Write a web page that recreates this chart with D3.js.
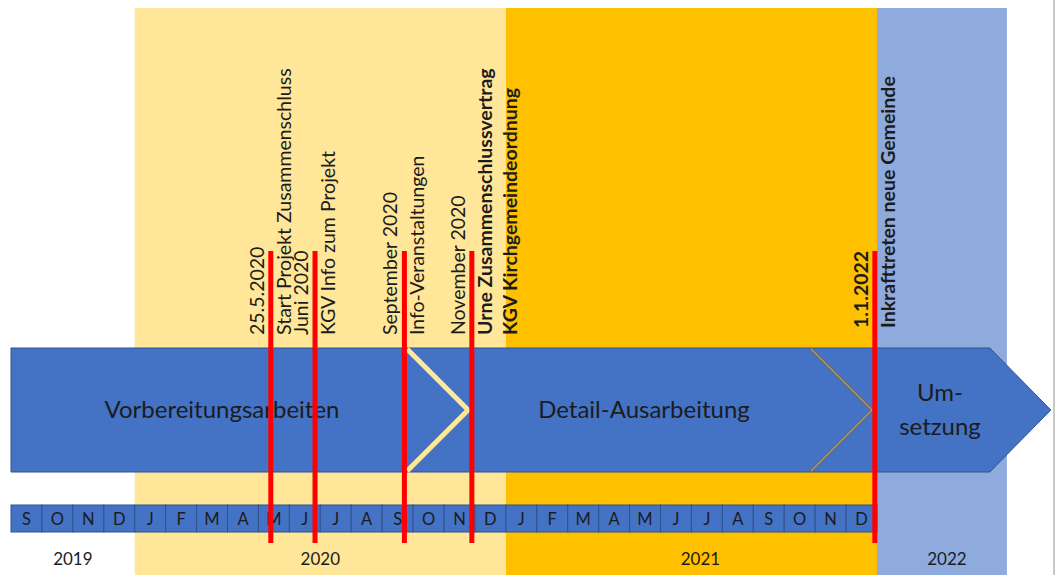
<!DOCTYPE html>
<html>
<head>
<meta charset="utf-8">
<script src="https://cdn.jsdelivr.net/npm/d3@7"></script>
<style>
  body { margin: 0; background: #fff; }
  svg { display: block; font-family: Lato, "Open Sans", sans-serif; }
</style>
</head>
<body>
<div id="chart"></div>
<script>
// months from September 2019 to December 2021 (index 0 = Sep 2019)
const months = ["S","O","N","D","J","F","M","A","M","J","J","A","S","O","N","D","J","F","M","A","M","J","J","A","S","O","N","D"];

const years = ["2019", "2020", "2021", "2022"];
const yearStart = [0, 4, 16, 28];
const yearEnd = [4, 16, 28, 32.2];
const yearColors = [null, "#FFE699", "#FFC000", "#8FAADC"];

const phases = [["Vorbereitungsarbeiten"], ["Detail-Ausarbeitung"], ["Um-", "setzung"]];
const phaseStart = [0, 14.78, 27.84];
const phaseEnd = [14.78, 27.84, 33.62];

const milestoneAt = [8.4, 9.83, 12.72, 14.9, 27.93];
const milestoneDate = ["25.5.2020", "Juni 2020", "September 2020", "November 2020", "1.1.2022"];
const milestoneDateBold = [false, false, false, false, true];
const milestoneText = [
  ["Start Projekt Zusammenschluss"],
  ["KGV Info zum Projekt"],
  ["Info-Veranstaltungen"],
  ["Urne Zusammenschlussvertrag", "KGV Kirchgemeindeordnung"],
  ["Inkrafttreten neue Gemeinde"]
];
const milestoneTextBold = [false, false, false, true, true];

const width = 1058, height = 575;

const svg = d3.select("#chart").append("svg")
  .attr("width", width)
  .attr("height", height);

const x = d3.scaleLinear().domain([0, months.length]).range([11, 877]);

const bandTop = 8;
const arrowTop = 348, arrowBottom = 472, arrowMid = (arrowTop + arrowBottom) / 2;
const notch = 61;
const barTop = 505, barBottom = 532;
const textColor = "#1c1c1c";

// year background bands
svg.append("g").selectAll("rect")
  .data(years.map((y, i) => i).filter(i => yearColors[i]))
  .join("rect")
  .attr("x", i => x(yearStart[i]))
  .attr("y", bandTop)
  .attr("width", i => x(yearEnd[i]) - x(yearStart[i]))
  .attr("height", height - bandTop)
  .attr("fill", i => yearColors[i]);

// right page border
svg.append("line")
  .attr("x1", 1054).attr("x2", 1054)
  .attr("y1", 0).attr("y2", height)
  .attr("stroke", "#c8c8c8")
  .attr("stroke-width", 2);

// big process arrow
const tipX = x(phaseEnd[phaseEnd.length - 1]);
const arrowPts = [
  [x(0), arrowTop], [tipX - notch, arrowTop], [tipX, arrowMid],
  [tipX - notch, arrowBottom], [x(0), arrowBottom]
];
svg.append("path")
  .attr("d", d3.line()(arrowPts) + "Z")
  .attr("fill", "#4472C4")
  .attr("stroke", "#2F528F")
  .attr("stroke-width", 1);

// chevron separators between phases
const chevron = t => d3.line()([[x(t) - notch, arrowTop + 1], [x(t), arrowMid], [x(t) - notch, arrowBottom - 1]]);
svg.append("path")
  .attr("d", chevron(phaseEnd[0]))
  .attr("fill", "none")
  .attr("stroke", "#FFE699")
  .attr("stroke-width", 5);
svg.append("path")
  .attr("d", chevron(phaseEnd[1]))
  .attr("fill", "none")
  .attr("stroke", "#6b6b6b")
  .attr("stroke-width", 3.2);
svg.append("path")
  .attr("d", chevron(phaseEnd[1]))
  .attr("fill", "none")
  .attr("stroke", "#a89a70")
  .attr("stroke-width", 1.2);

// phase labels
const phaseCenter = [222, 644, 940];
phases.forEach((lines, i) => {
  const t = svg.append("text")
    .attr("text-anchor", "middle")
    .attr("font-size", 24)
    .attr("fill", textColor);
  lines.forEach((l, j) => {
    t.append("tspan")
      .attr("x", phaseCenter[i])
      .attr("y", arrowMid + 8 - (lines.length - 1) * 17 + j * 34)
      .text(l);
  });
});

// month bar
const cells = svg.append("g").selectAll("g")
  .data(months)
  .join("g");
cells.append("rect")
  .attr("x", (d, i) => x(i))
  .attr("y", barTop)
  .attr("width", x(1) - x(0))
  .attr("height", barBottom - barTop)
  .attr("fill", "#4472C4")
  .attr("stroke", "#2F528F")
  .attr("stroke-width", 1);
cells.append("text")
  .attr("x", (d, i) => x(i + 0.5))
  .attr("y", barBottom - 7.5)
  .attr("text-anchor", "middle")
  .attr("font-size", 16.5)
  .attr("fill", textColor)
  .text(d => d);

// year labels
const yearShift = [0, 0, 9, 5];
svg.append("g").selectAll("text")
  .data(years)
  .join("text")
  .attr("x", (d, i) => (x(yearStart[i]) + x(yearEnd[i])) / 2 + yearShift[i])
  .attr("y", 565)
  .attr("text-anchor", "middle")
  .attr("font-size", 17)
  .attr("fill", textColor)
  .text(d => d);

// milestones: red lines and rotated labels
milestoneAt.forEach((m, i) => {
  const lx = x(m);
  const base = i === milestoneAt.length - 1 ? 328 : 335;
  svg.append("line")
    .attr("x1", lx).attr("x2", lx)
    .attr("y1", 251).attr("y2", 543)
    .attr("stroke", "#FF0000")
    .attr("stroke-width", 5);

  svg.append("text")
    .attr("transform", `translate(${lx - 7},${base}) rotate(-90)`)
    .attr("font-size", 19.5)
    .attr("font-weight", milestoneDateBold[i] ? "bold" : "normal")
    .attr("fill", textColor)
    .text(milestoneDate[i]);

  milestoneText[i].forEach((l, j) => {
    svg.append("text")
      .attr("transform", `translate(${lx + 20 + j * 25},${base}) rotate(-90)`)
      .attr("font-size", 19.5)
      .attr("font-weight", milestoneTextBold[i] ? "bold" : "normal")
      .attr("fill", textColor)
      .text(l);
  });
});
</script>
</body>
</html>
